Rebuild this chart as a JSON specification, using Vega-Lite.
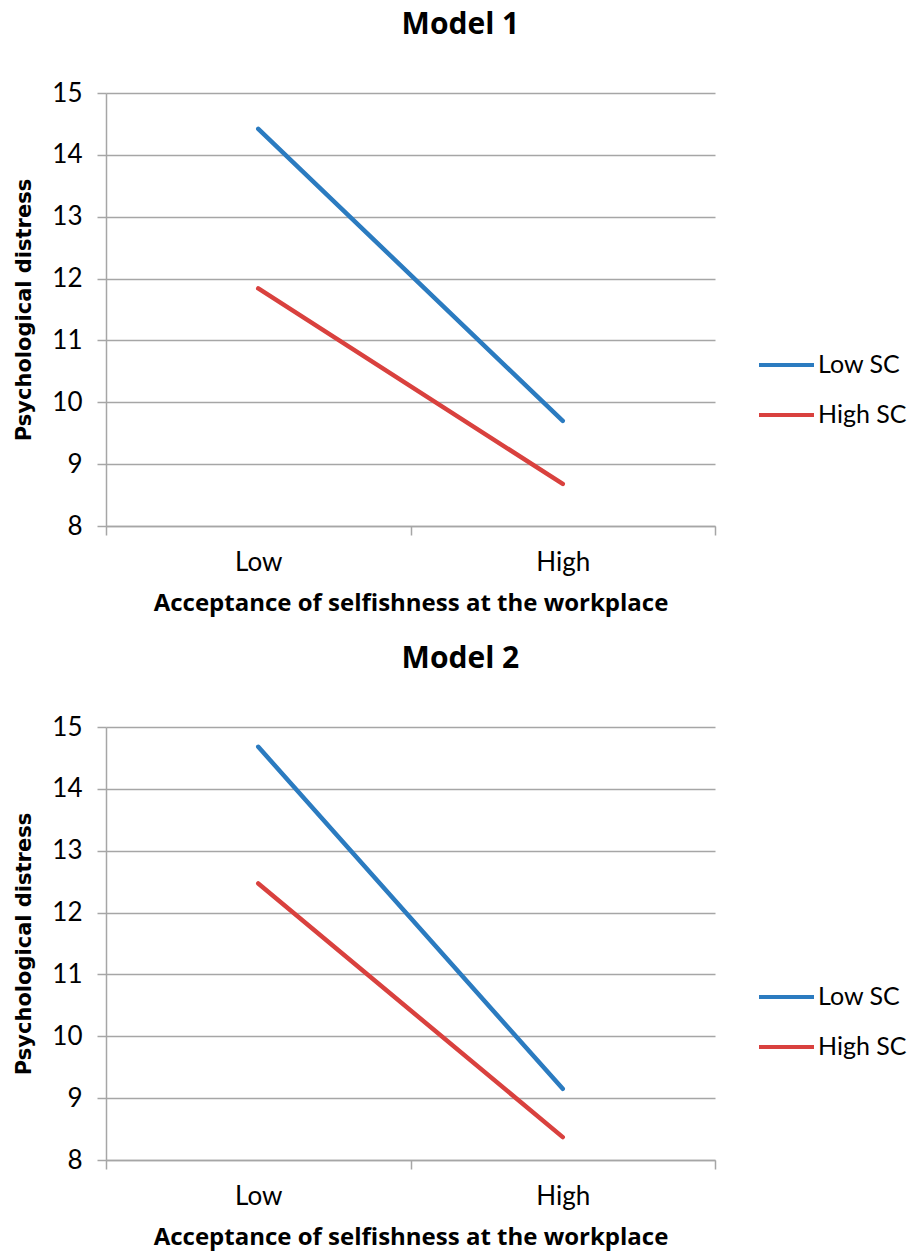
{
  "$schema": "https://vega.github.io/schema/vega-lite/v6.json",
  "background": "white",
  "padding": {"left": 13, "top": 10, "right": 5, "bottom": 5},
  "spacing": 29,
  "data": {"values": [
    {"model": "Model 1", "sc": "Low SC", "level": "Low", "value": 14.42},
    {"model": "Model 1", "sc": "Low SC", "level": "High", "value": 9.70},
    {"model": "Model 1", "sc": "High SC", "level": "Low", "value": 11.84},
    {"model": "Model 1", "sc": "High SC", "level": "High", "value": 8.68},
    {"model": "Model 2", "sc": "Low SC", "level": "Low", "value": 14.68},
    {"model": "Model 2", "sc": "Low SC", "level": "High", "value": 9.15},
    {"model": "Model 2", "sc": "High SC", "level": "Low", "value": 12.47},
    {"model": "Model 2", "sc": "High SC", "level": "High", "value": 8.37}
  ]},
  "resolve": {"legend": {"color": "independent"}},
  "vconcat": [
    {
      "title": {"text": "Model 1"},
      "width": 609,
      "height": 433,
      "transform": [{"filter": "datum.model == 'Model 1'"}],
      "mark": {"type": "line", "strokeWidth": 4.5, "strokeCap": "round"},
      "encoding": {
        "x": {"field": "level", "type": "nominal", "sort": ["Low", "High"],
              "scale": {"type": "band", "paddingInner": 0, "paddingOuter": 0},
              "axis": {"title": "Acceptance of selfishness at the workplace", "tickBand": "extent"}},
        "y": {"field": "value", "type": "quantitative", "scale": {"domain": [8, 15], "nice": false, "zero": false},
              "axis": {"title": "Psychological distress", "values": [8, 9, 10, 11, 12, 13, 14, 15]}},
        "color": {"field": "sc", "type": "nominal",
                  "scale": {"domain": ["Low SC", "High SC"], "range": ["#2B7BC0", "#D9413E"]},
                  "legend": {"title": null, "orient": "none", "legendX": 651, "legendY": 247}}
      }
    },
    {
      "title": {"text": "Model 2"},
      "width": 609,
      "height": 433,
      "transform": [{"filter": "datum.model == 'Model 2'"}],
      "mark": {"type": "line", "strokeWidth": 4.5, "strokeCap": "round"},
      "encoding": {
        "x": {"field": "level", "type": "nominal", "sort": ["Low", "High"],
              "scale": {"type": "band", "paddingInner": 0, "paddingOuter": 0},
              "axis": {"title": "Acceptance of selfishness at the workplace", "tickBand": "extent"}},
        "y": {"field": "value", "type": "quantitative", "scale": {"domain": [8, 15], "nice": false, "zero": false},
              "axis": {"title": "Psychological distress", "values": [8, 9, 10, 11, 12, 13, 14, 15]}},
        "color": {"field": "sc", "type": "nominal",
                  "scale": {"domain": ["Low SC", "High SC"], "range": ["#2B7BC0", "#D9413E"]},
                  "legend": {"title": null, "orient": "none", "legendX": 651, "legendY": 245}}
      }
    }
  ],
  "config": {
    "view": {"stroke": null},
    "font": "Lato",
    "title": {"font": "Open Sans", "fontSize": 30, "fontWeight": "bold", "anchor": "middle", "frame": "bounds", "offset": 40, "color": "black"},
    "axis": {
      "domainColor": "#A6A6A6", "domainWidth": 1.5,
      "tickColor": "#A6A6A6", "tickWidth": 1.5, "tickSize": 9,
      "gridColor": "#A6A6A6", "gridWidth": 1.5,
      "labelFont": "Lato", "labelFontSize": 26, "labelColor": "black",
      "titleFontWeight": "bold", "titleColor": "black"
    },
    "axisX": {"grid": false, "labelAngle": 0, "labelPadding": 14, "titlePadding": 16, "titleFont": "Open Sans", "titleFontSize": 24},
    "axisY": {"grid": true, "labelPadding": 15, "titlePadding": 17, "titleFont": "DejaVu Sans", "titleFontSize": 21},
    "legend": {
      "symbolType": "stroke", "symbolSize": 3025, "symbolStrokeWidth": 4,
      "labelFont": "Lato", "labelFontSize": 25, "labelColor": "black", "labelOffset": 2,
      "rowPadding": 0, "clipHeight": 50
    }
  }
}
